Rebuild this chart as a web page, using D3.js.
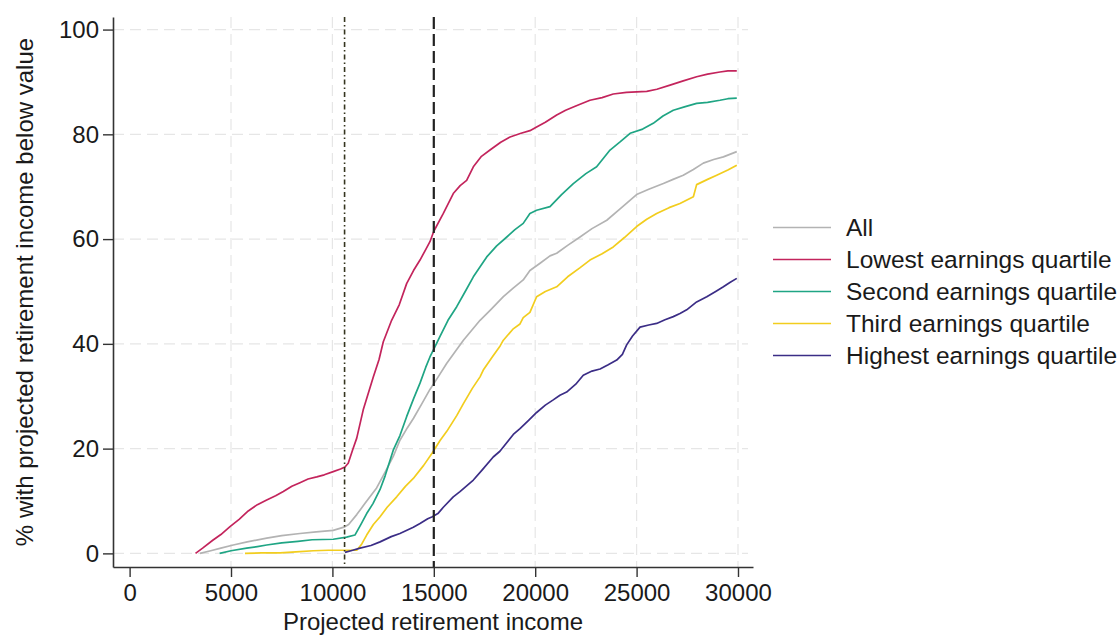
<!DOCTYPE html>
<html>
<head>
<meta charset="utf-8">
<script src="https://cdn.jsdelivr.net/npm/d3@7"></script>
<style>
  html, body { margin: 0; padding: 0; background: #fff; }
  svg { display: block; font-family: "Liberation Sans", Arial, Helvetica, sans-serif; }
</style>
</head>
<body>
<svg id="chart" width="1120" height="635"></svg>
<script>
// Cumulative share (%) with projected retirement income below each value, by earnings group.
// Points are [income, percent].
const seriesNames = ["All", "Lowest earnings quartile", "Second earnings quartile",
                     "Third earnings quartile", "Highest earnings quartile"];

const allValues = [
  [3470,0],[4000,0.5],[4500,1],[5110,1.6],[5800,2.2],[6760,2.9],[7500,3.4],[8400,3.8],
  [9200,4.1],[10040,4.4],[10570,5],[10800,5.5],[11200,7.4],[11600,9.5],[12180,12.5],
  [12600,15.5],[13000,18.5],[13330,21.6],[13700,24],[14000,25.8],[14400,28.5],[14810,31.3],
  [15200,33.6],[15640,36.3],[16050,38.5],[16460,40.7],[16870,42.6],[17280,44.5],[17800,46.5],
  [18430,49],[18900,50.6],[19410,52.2],[19740,54],[20240,55.4],[20730,56.8],[21060,57.3],
  [21600,58.8],[22210,60.4],[22800,62],[23530,63.6],[24200,65.8],[25000,68.5],[25600,69.5],
  [26320,70.6],[26800,71.4],[27300,72.2],[27800,73.3],[28290,74.5],[28800,75.2],[29280,75.7],
  [29940,76.7]
];

const lowestValues = [
  [3250,0],[3600,1],[4100,2.5],[4500,3.6],[4950,5.1],[5400,6.5],[5850,8.1],[6300,9.3],
  [6760,10.2],[7200,11],[7580,11.8],[8000,12.8],[8400,13.5],[8800,14.2],[9230,14.6],
  [9600,15],[10040,15.6],[10400,16.1],[10620,16.5],[10780,17.2],[11000,19.8],[11200,22],
  [11520,27.4],[12020,33.7],[12300,37],[12510,40.4],[12920,44.5],[13300,47.5],[13660,51.5],
  [14000,54],[14320,56],[14600,58],[14810,59.5],[15000,61.5],[15470,64.9],[15960,68.7],
  [16300,70.2],[16620,71.2],[16950,73.8],[17350,75.8],[17770,77],[18300,78.5],[18760,79.5],
  [19300,80.2],[19740,80.7],[20070,81.4],[20500,82.3],[21060,83.7],[21500,84.6],[22000,85.4],
  [22700,86.5],[23300,87],[23850,87.7],[24500,88],[25000,88.1],[25500,88.2],[26000,88.6],
  [26650,89.4],[27300,90.2],[27960,91],[28500,91.5],[29110,91.9],[29500,92.1],[29940,92.1]
];

const secondValues = [
  [4440,0],[5000,0.5],[5770,1],[6300,1.3],[6760,1.6],[7500,2],[8300,2.3],[9000,2.6],
  [10040,2.7],[10700,3.1],[11110,3.5],[11400,5.5],[11690,7.6],[12000,9.5],[12350,12.2],
  [12600,14.8],[13000,19.7],[13330,22.5],[13660,26.1],[14000,29.5],[14320,32.5],[14600,35.5],
  [14810,37.5],[15000,39],[15300,41.4],[15700,44.5],[16130,47.1],[16550,50],[16950,52.8],
  [17300,54.8],[17610,56.6],[18100,58.7],[18600,60.4],[19000,61.8],[19410,63],[19740,64.9],
  [20070,65.5],[20730,66.2],[21300,68.5],[21880,70.6],[22500,72.5],[23030,73.8],[23690,77],
  [24200,78.6],[24680,80.2],[25300,81],[25820,82.1],[26300,83.5],[26810,84.6],[27400,85.3],
  [27960,85.9],[28500,86.1],[29110,86.5],[29500,86.8],[29940,86.9]
];

const thirdValues = [
  [5690,0],[6500,0.1],[7420,0.1],[8200,0.3],[9060,0.5],[9800,0.6],[10540,0.6],[11200,0.6],
  [11450,1.8],[11690,3.5],[12020,5.5],[12350,7],[12700,8.8],[13170,10.8],[13600,12.8],
  [13990,14.3],[14500,16.8],[14930,19.2],[15300,21.5],[15640,23.3],[16130,26.3],[16460,28.6],
  [16900,31.5],[17280,33.7],[17440,35],[17900,37.6],[18270,39.6],[18430,40.7],[18900,42.8],
  [19250,43.8],[19410,45],[19740,46],[20070,49],[20500,50],[21060,50.9],[21600,52.8],
  [22200,54.5],[22700,56],[23300,57.2],[23850,58.5],[24400,60.3],[25000,62.4],[25500,63.8],
  [25990,64.9],[26600,66],[27140,66.8],[27800,68.1],[27960,70.4],[28500,71.4],[28950,72.2],
  [29500,73.2],[29940,74.1]
];

const highestValues = [
  [10620,0.2],[11000,0.6],[11360,1.0],[11900,1.5],[12350,2.2],[12900,3.2],[13330,3.8],
  [13990,5],[14320,5.7],[14700,6.6],[14930,7],[15200,7.6],[15470,8.8],[15960,10.8],
  [16290,11.8],[16950,14],[17400,16],[17930,18.4],[18260,19.5],[18920,22.7],[19250,23.8],
  [19700,25.5],[20070,26.9],[20500,28.3],[20890,29.3],[21220,30.2],[21550,30.8],[22000,32.3],
  [22370,34],[22800,34.8],[23200,35.2],[23600,36],[24020,36.9],[24300,38],[24510,39.8],
  [24800,41.5],[25170,43.2],[25600,43.6],[25990,43.9],[26400,44.6],[26810,45.2],[27140,45.8],
  [27470,46.5],[27960,48],[28460,49],[28900,50],[29280,50.9],[29600,51.7],[29940,52.5]
];

const seriesColors = ["#b3b3b3", "#c3245c", "#1fa584", "#f2cd1e", "#3b2d86"];

const xTicks = [0, 5000, 10000, 15000, 20000, 25000, 30000];
const yTicks = [0, 20, 40, 60, 80, 100];

// Reference incomes: full state pension level and a 15,000 benchmark
const statePensionLine = 10600;
const benchmarkLine = 15000;

const xTitle = "Projected retirement income";
const yTitle = "% with projected retirement income below value";

// ---- layout ----
const plot = { left: 113, right: 753, top: 17, bottom: 567 };
const svg = d3.select("#chart");

const x = d3.scaleLinear().domain([-819, 30740]).range([plot.left, plot.right]);
const y = d3.scaleLinear().domain([-2.6, 102.4]).range([plot.bottom, plot.top]);

// grid lines
const grid = svg.append("g").attr("class", "grid");
grid.selectAll("line.h").data(yTicks).join("line")
  .attr("class", "h")
  .attr("x1", plot.left).attr("x2", plot.right - 5)
  .attr("y1", d => y(d)).attr("y2", d => y(d))
  .attr("stroke", "#e6e6e6").attr("stroke-width", 1.2).attr("stroke-dasharray", "11,6");
grid.selectAll("line.v").data(xTicks.filter(d => d > 0)).join("line")
  .attr("class", "v")
  .attr("x1", d => x(d)).attr("x2", d => x(d))
  .attr("y1", plot.top).attr("y2", plot.bottom)
  .attr("stroke", "#e6e6e6").attr("stroke-width", 1.2).attr("stroke-dasharray", "11,6");

// series lines
const allSeries = [allValues, lowestValues, secondValues, thirdValues, highestValues];
const line = d3.line().x(d => x(d[0])).y(d => y(d[1]));
const drawOrder = [0, 1, 2, 3, 4];
svg.append("g").selectAll("path").data(drawOrder).join("path")
  .attr("d", i => line(allSeries[i]))
  .attr("fill", "none")
  .attr("stroke", i => seriesColors[i])
  .attr("stroke-width", 1.7)
  .attr("stroke-linejoin", "round");

// reference lines
svg.append("line")
  .attr("x1", x(statePensionLine)).attr("x2", x(statePensionLine))
  .attr("y1", plot.top).attr("y2", plot.bottom)
  .attr("stroke", "#35351f").attr("stroke-width", 1.6)
  .attr("stroke-dasharray", "5,3,1.5,3");
svg.append("line")
  .attr("x1", x(benchmarkLine)).attr("x2", x(benchmarkLine))
  .attr("y1", plot.top).attr("y2", plot.bottom)
  .attr("stroke", "#222").attr("stroke-width", 2.2)
  .attr("stroke-dasharray", "12,5");

// axes
const fontSize = 24;
const xAxis = svg.append("g")
  .attr("transform", `translate(0,${plot.bottom})`)
  .call(d3.axisBottom(x).tickValues(xTicks).tickFormat(d3.format("d"))
        .tickSize(10).tickSizeOuter(0).tickPadding(7));
const yAxis = svg.append("g")
  .attr("transform", `translate(${plot.left},0)`)
  .call(d3.axisLeft(y).tickValues(yTicks).tickFormat(d3.format("d"))
        .tickSize(10).tickSizeOuter(0).tickPadding(4));
[xAxis, yAxis].forEach(g => {
  g.select(".domain").attr("stroke", "#333").attr("stroke-width", 1.6);
  g.selectAll(".tick line").attr("stroke", "#333").attr("stroke-width", 1.4);
  g.selectAll(".tick text").attr("fill", "#1a1a1a")
    .style("font-size", fontSize + "px")
    .style("font-family", '"Liberation Sans", Arial, sans-serif');
});

// axis titles
svg.append("text")
  .attr("x", (plot.left + plot.right) / 2).attr("y", 630)
  .attr("text-anchor", "middle").attr("fill", "#1a1a1a")
  .style("font-size", fontSize + "px")
  .text(xTitle);
svg.append("text")
  .attr("transform", `translate(33,${(plot.top + plot.bottom) / 2}) rotate(-90)`)
  .attr("text-anchor", "middle").attr("fill", "#1a1a1a")
  .style("font-size", fontSize + "px")
  .text(yTitle);

// legend
const legend = svg.append("g").attr("transform", "translate(773,227.5)");
const rows = legend.selectAll("g").data(seriesNames).join("g")
  .attr("transform", (d, i) => `translate(0,${i * 32})`);
rows.append("line")
  .attr("x1", 0).attr("x2", 58).attr("y1", 0).attr("y2", 0)
  .attr("stroke", (d, i) => seriesColors[i]).attr("stroke-width", 1.7);
rows.append("text")
  .attr("x", 73).attr("y", 0).attr("dy", "0.35em")
  .attr("fill", "#1a1a1a")
  .style("font-size", "24.5px")
  .text(d => d);
</script>
</body>
</html>
